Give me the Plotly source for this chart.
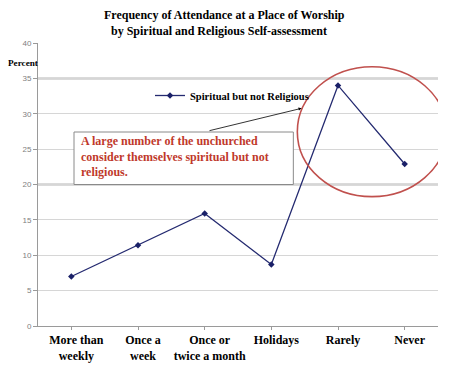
import plotly.graph_objects as go

categories = ["More than<br>weekly", "Once a<br>week", "Once or<br>twice a month",
              "Holidays", "Rarely", "Never"]
values = [7.0, 11.4, 15.9, 8.7, 34.0, 22.9]
series_name = "Spiritual but not Religious"
y_ticks = [0, 5, 10, 15, 20, 25, 30, 35, 40]

SERIF = "Liberation Serif, Times New Roman, serif"
RED = "#c0392b"

fig = go.Figure()
fig.add_trace(go.Scatter(
    x=list(range(len(categories))), y=values, name=series_name,
    mode="lines+markers",
    line=dict(color="#242a70", width=1.3),
    marker=dict(symbol="diamond", size=5, color="#1a2068"),
    showlegend=True,
))

shapes = []
# darker gridlines at 35 and 20
for yv in (35, 20):
    shapes.append(dict(type="line", xref="paper", yref="y", x0=0, x1=1, y0=yv, y1=yv,
                       line=dict(color="#b5b5b5", width=2), layer="below"))
# annotation box
shapes.append(dict(type="rect", xref="x", yref="y", x0=0.04, x1=3.33, y0=20, y1=27.42,
                   line=dict(color="#8a8a8a", width=1), fillcolor="white", layer="above"))
# ellipse
shapes.append(dict(type="circle", xref="x", yref="y", x0=3.39, x1=5.63, y0=18.28, y1=36.65,
                   line=dict(color="#c0504d", width=1.6), layer="above"))

annotations = [
    dict(text="Frequency of Attendance at a Place of Worship", xref="paper", yref="paper",
         x=(224 - 38) / 400, y=(326 - 15) / 283, xanchor="center", yanchor="middle",
         showarrow=False, font=dict(family=SERIF, size=12, color="black", weight="bold")),
    dict(text="by Spiritual and Religious Self-assessment", xref="paper", yref="paper",
         x=(219 - 38) / 400, y=(326 - 31) / 283, xanchor="center", yanchor="middle",
         showarrow=False, font=dict(family=SERIF, size=12, color="black", weight="bold")),
    dict(text="Percent", xref="paper", yref="paper",
         x=(6 - 38) / 400, y=(326 - 63) / 283, xanchor="left", yanchor="middle",
         showarrow=False, font=dict(family=SERIF, size=9.2, color="black", weight="bold")),
    dict(text="A large number of the unchurched<br>consider themselves spiritual but not<br>religious.",
         xref="x", yref="y", x=0.115, y=23.96, xanchor="left", yanchor="middle", align="left",
         showarrow=False, font=dict(family=SERIF, size=12, color=RED, weight="bold")),
    dict(text="", xref="x", yref="y", x=3.455, y=30.77, axref="x", ayref="y",
         ax=2.05, ay=27.56, showarrow=True, arrowhead=2, arrowsize=0.8, arrowwidth=0.8,
         arrowcolor="black"),
]

fig.update_layout(
    width=470, height=380,
    margin=dict(l=38, r=32, t=43, b=54),
    paper_bgcolor="white", plot_bgcolor="white",
    shapes=shapes, annotations=annotations,
    showlegend=True,
    legend=dict(x=(150 - 38) / 400, y=(326 - 81) / 283, xanchor="left", yanchor="top",
                bgcolor="rgba(0,0,0,0)", borderwidth=0,
                font=dict(family=SERIF, size=10.5, color="black", weight="bold")),
    xaxis=dict(
        tickmode="array", tickvals=list(range(len(categories))), ticktext=categories,
        range=[-0.5, len(categories) - 0.5],
        showline=True, linecolor="#9a9a9a", linewidth=1,
        ticks="outside", ticklen=3, tickcolor="#9a9a9a", tickson="boundaries",
        showgrid=False, zeroline=False, ticklabelshift=5,
        tickfont=dict(family=SERIF, size=12, color="black", weight="bold"),
    ),
    yaxis=dict(
        range=[0, 40], tickvals=y_ticks,
        showline=True, linecolor="#9a9a9a", linewidth=1,
        ticks="outside", ticklen=4, tickcolor="#9a9a9a",
        showgrid=True, gridcolor="#d6d6d6", gridwidth=1, zeroline=False,
        tickfont=dict(family="Liberation Sans, Arial, sans-serif", size=8, color="#808080"),
    ),
)

fig.write_html("out.html",
               config={"displayModeBar": False},
               post_script="document.body.style.margin='0';document.body.style.padding='0';")
